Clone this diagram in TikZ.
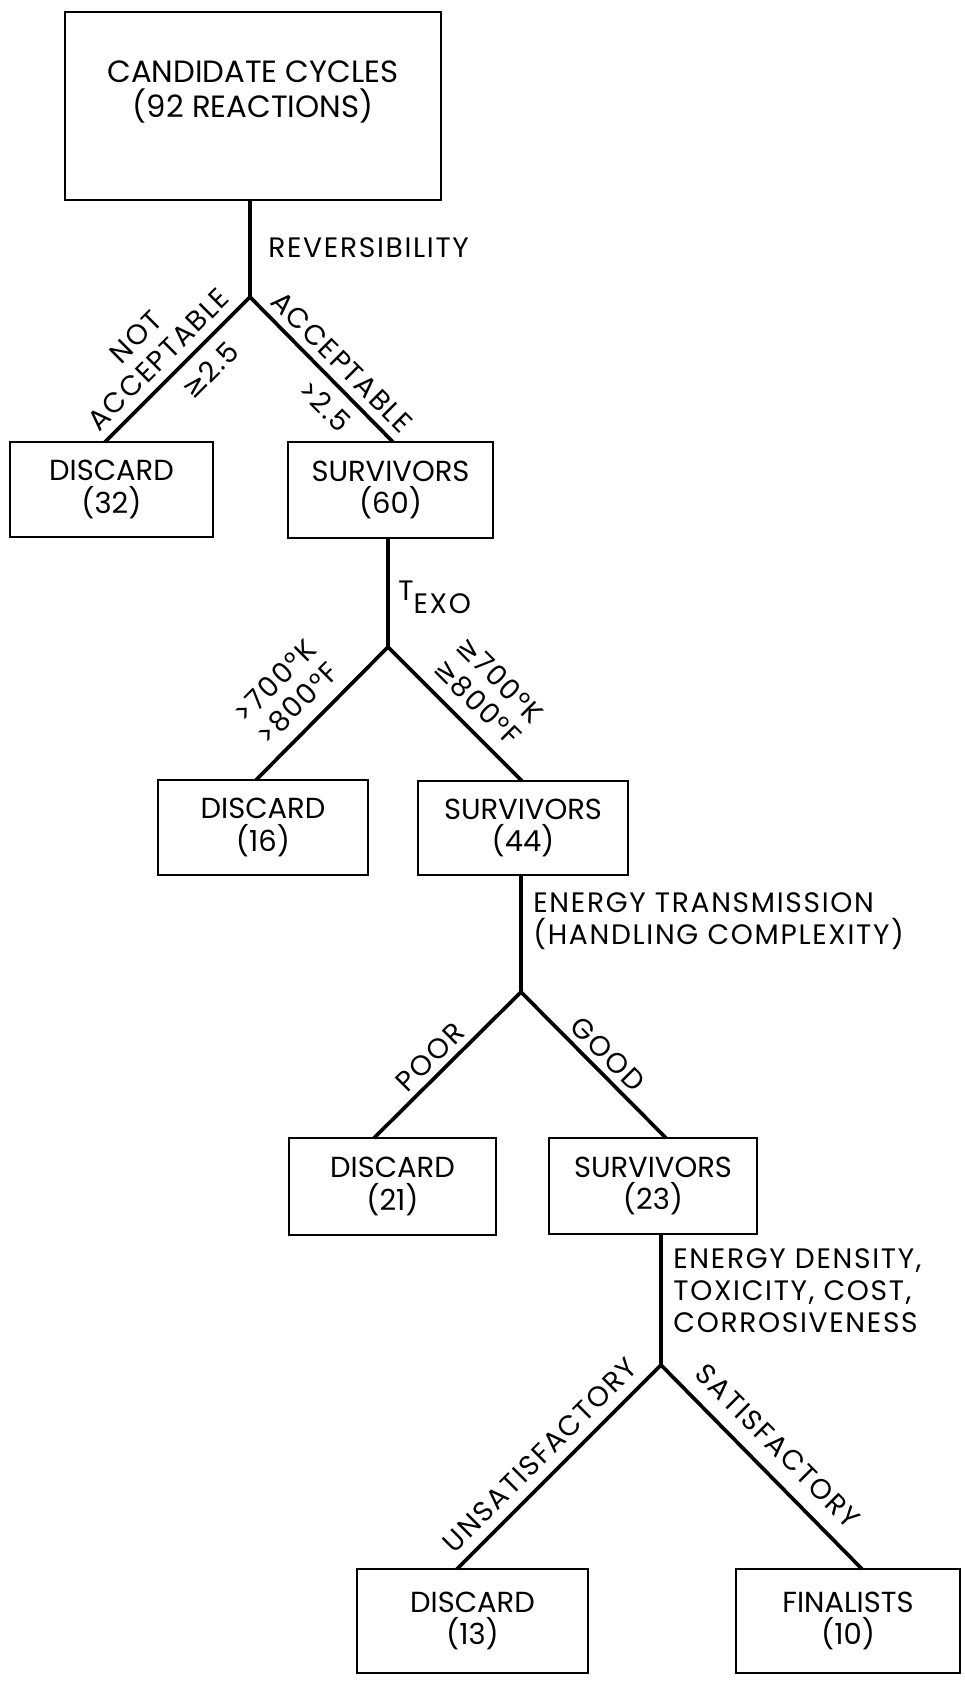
\documentclass[tikz,border=0pt]{standalone}
\usepackage{fontspec}
\setmainfont{Poppins}
\newfontfamily\labelfam[LetterSpace=6]{Poppins}
\newfontfamily\symf{DejaVu Sans}
\newcommand{\gee}{{\symf ≥}}
\newcommand{\boxfont}{\fontsize{16.5}{18.7}\selectfont}
\newcommand{\topfont}{\fontsize{17.5}{19.6}\selectfont}
\newcommand{\labfont}{\labelfam\fontsize{16}{18.2}\selectfont}
\begin{document}
\begin{tikzpicture}[x=0.02cm,y=-0.02cm,
  box/.style={draw, line width=1.5pt, align=center, inner sep=0pt, font=\boxfont},
  wh/.style 2 args={minimum width=#1*0.02cm, minimum height=#2*0.02cm},
  branch/.style={line width=2.1pt, line join=miter},
  lab/.style={font=\labfont, inner sep=0pt, align=center}]
\useasboundingbox (0,0) rectangle (964,1689);
% boxes
\node[box, wh={376}{188}] (top) at (253,106) {};
\node[inner sep=0pt, align=center, font=\topfont] (toptext) at (253,92) {CANDIDATE CYCLES\\(92 REACTIONS)};
\node[box, wh={203}{95}] (d32) at (111.5,489.5) {DISCARD\\(32)};
\node[box, wh={205}{96}] (s60) at (390.5,490) {SURVIVORS\\(60)};
\node[box, wh={210}{95}] (d16) at (263,827.5) {DISCARD\\(16)};
\node[box, wh={210}{94}] (s44) at (523,828) {SURVIVORS\\(44)};
\node[box, wh={207}{97}] (d21) at (392.5,1186.5) {DISCARD\\(21)};
\node[box, wh={208}{96}] (s23) at (653,1186) {SURVIVORS\\(23)};
\node[box, wh={231}{104}] (d13) at (472.5,1621) {DISCARD\\(13)};
\node[box, wh={224}{104}] (fin) at (848,1621) {FINALISTS\\(10)};
% junctions
\coordinate (j1) at (250,297);
\coordinate (j1l) at (105,442);
\coordinate (j1r) at (393,442);
\coordinate (j2) at (388,647);
\coordinate (j2l) at (256,780);
\coordinate (j2r) at (522,781);
\coordinate (j3) at (521,992);
\coordinate (j3l) at (374,1138);
\coordinate (j3r) at (666,1138);
\coordinate (j4) at (661,1365);
\coordinate (j4l) at (457,1569);
\coordinate (j4r) at (862,1569);
% connectors
\draw[branch] (j1 |- top.south) -- (j1);
\draw[branch] (j1l) -- (j1) -- (j1r);
\draw[branch] (j2 |- s60.south) -- (j2);
\draw[branch] (j2l) -- (j2) -- (j2r);
\draw[branch] (j3 |- s44.south) -- (j3);
\draw[branch] (j3l) -- (j3) -- (j3r);
\draw[branch] (j4 |- s23.south) -- (j4);
\draw[branch] (j4l) -- (j4) -- (j4r);
% labels
\node[lab, anchor=west] (rev) at (268,248) {REVERSIBILITY};
\node[lab, rotate=45] (notacc) at (147,348) {NOT\\ACCEPTABLE};
\node[lab, rotate=45] (ge25) at (210,370) {\gee2.5};
\node[lab, rotate=-45] (acc) at (342,362) {ACCEPTABLE};
\node[lab, rotate=-45] (gt25) at (325,406) {>2.5};
\node[lab, anchor=base west] (texo) at (398,600) {T\raisebox{-0.26cm}{EXO}};
\node[lab, rotate=45] (hot) at (286,692) {>700°K\\>800°F};
\node[lab, rotate=-45] (cool) at (489,691) {\gee700°K\\\gee800°F};
\node[lab, anchor=west, align=left] (etx) at (533,921) {ENERGY TRANSMISSION\\(HANDLING COMPLEXITY)};
\node[lab, rotate=45] (poor) at (430,1057) {POOR};
\node[lab, rotate=-45] (good) at (608,1054) {GOOD};
\node[lab, anchor=west, align=left] (edc) at (673,1291) {ENERGY DENSITY,\\TOXICITY, COST,\\CORROSIVENESS};
\node[lab, rotate=45] (unsat) at (540,1455) {UNSATISFACTORY};
\node[lab, rotate=-45] (sat) at (778,1446) {SATISFACTORY};
\end{tikzpicture}
\end{document}
